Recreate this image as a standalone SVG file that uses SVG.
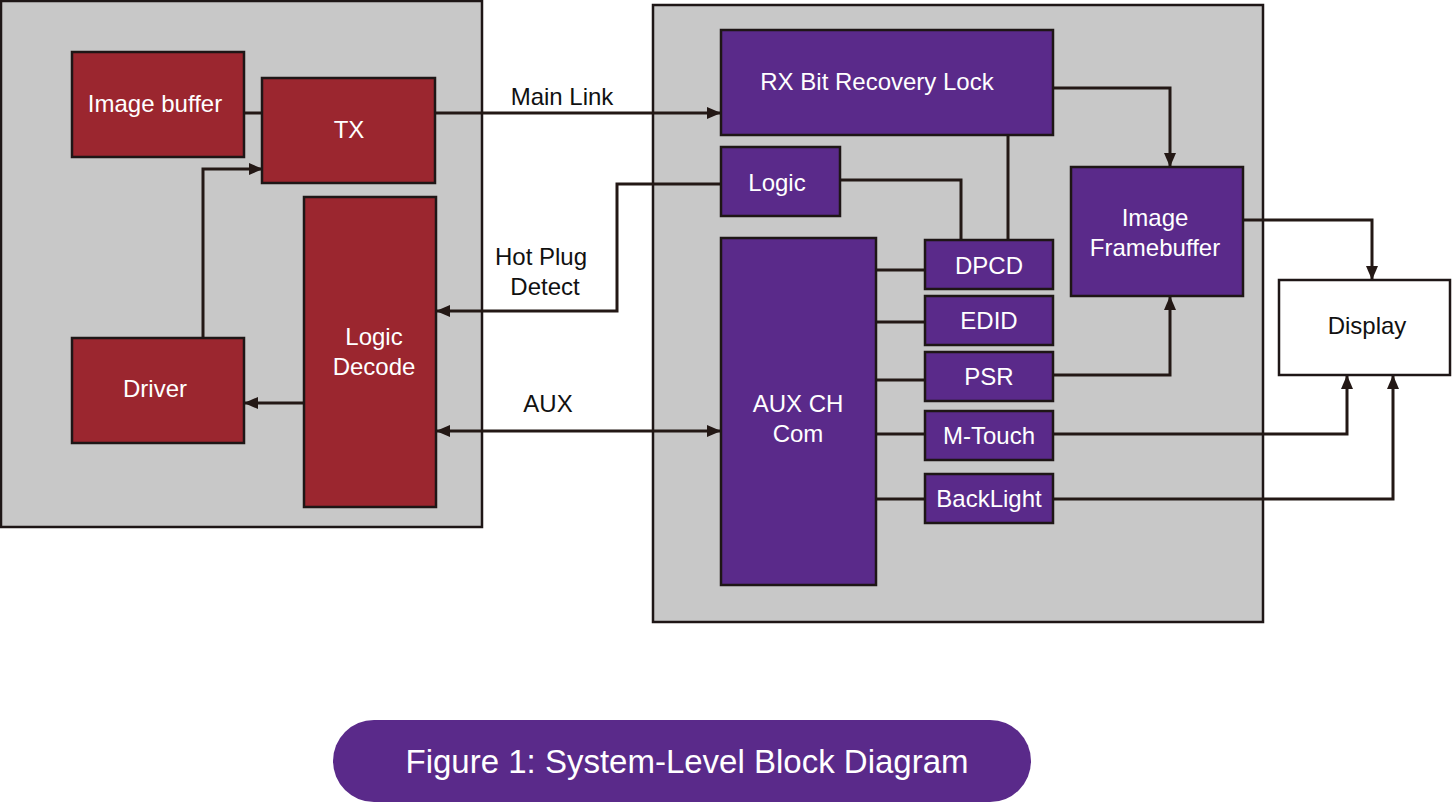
<svg xmlns="http://www.w3.org/2000/svg" width="1452" height="803" viewBox="0 0 1452 803">
<style>
.cont{fill:#c8c8c8;stroke:#1e1616;stroke-width:2.5}
.red{fill:#9b262f;stroke:#1e1616;stroke-width:2.5}
.pur{fill:#5a2a8a;stroke:#1e1616;stroke-width:2.5}
.wht{fill:#ffffff;stroke:#1e1616;stroke-width:2.5}
.lbl{font-family:"Liberation Sans",Arial,sans-serif;font-size:24px;text-anchor:middle;dominant-baseline:central}
.w{fill:#ffffff}
.k{fill:#111111}
.cn{fill:none;stroke:#231815;stroke-width:3}
</style>
<defs>
<marker id="ah" markerUnits="userSpaceOnUse" markerWidth="14" markerHeight="12" refX="13" refY="6" orient="auto-start-reverse">
<path d="M0,0 L14,6 L0,12 Z" fill="#231815"/>
</marker>
</defs>
<rect x="1" y="1" width="481" height="526" class="cont"/>
<rect x="653" y="5" width="610" height="617" class="cont"/>
<g id="connectors">
<path class="cn" d="M244,113 H262"/>
<path class="cn" d="M203,338 V169 H262" marker-end="url(#ah)"/>
<path class="cn" d="M304,403 H245" marker-end="url(#ah)"/>
<path class="cn" d="M435,113 H720" marker-end="url(#ah)"/>
<path class="cn" d="M721,184 H617 V311 H437" marker-end="url(#ah)"/>
<path class="cn" d="M437,431 H720" marker-start="url(#ah)" marker-end="url(#ah)"/>
<path class="cn" d="M1053,88 H1170 V166" marker-end="url(#ah)"/>
<path class="cn" d="M840,180 H961 V240"/>
<path class="cn" d="M1008,135 V240"/>
<path class="cn" d="M876,270 H925"/>
<path class="cn" d="M876,322 H925"/>
<path class="cn" d="M876,380 H925"/>
<path class="cn" d="M876,434 H925"/>
<path class="cn" d="M876,499 H925"/>
<path class="cn" d="M1053,375 H1170 V297" marker-end="url(#ah)"/>
<path class="cn" d="M1243,220 H1372 V279" marker-end="url(#ah)"/>
<path class="cn" d="M1053,434 H1347 V376" marker-end="url(#ah)"/>
<path class="cn" d="M1053,499 H1393 V376" marker-end="url(#ah)"/>
</g>
<g id="image-buffer"><rect x="72" y="52" width="172" height="105" class="red"/><text x="155" y="103" class="lbl w">Image buffer</text></g>
<g id="tx"><rect x="262" y="78" width="173" height="105" class="red"/><text x="349" y="129" class="lbl w">TX</text></g>
<g id="logic-decode"><rect x="304" y="197" width="132" height="310" class="red"/><text x="374" y="336" class="lbl w">Logic</text><text x="374" y="366" class="lbl w">Decode</text></g>
<g id="driver"><rect x="72" y="338" width="172" height="105" class="red"/><text x="155" y="388" class="lbl w">Driver</text></g>
<g id="main-link-label"><text x="562" y="96" class="lbl k">Main Link</text></g>
<g id="hpd-label"><text x="541" y="256" class="lbl k">Hot Plug</text><text x="545" y="286" class="lbl k">Detect</text></g>
<g id="aux-label"><text x="548" y="403" class="lbl k">AUX</text></g>
<g id="rx"><rect x="721" y="30" width="332" height="105" class="pur"/><text x="877" y="81" class="lbl w">RX Bit Recovery Lock</text></g>
<g id="logic"><rect x="721" y="147" width="119" height="69" class="pur"/><text x="777" y="182" class="lbl w">Logic</text></g>
<g id="aux-ch"><rect x="721" y="238" width="155" height="347" class="pur"/><text x="798" y="403" class="lbl w">AUX CH</text><text x="798" y="433" class="lbl w">Com</text></g>
<g id="dpcd"><rect x="925" y="240" width="128" height="49" class="pur"/><text x="989" y="265" class="lbl w">DPCD</text></g>
<g id="edid"><rect x="925" y="296" width="128" height="49" class="pur"/><text x="989" y="320" class="lbl w">EDID</text></g>
<g id="psr"><rect x="925" y="352" width="128" height="49" class="pur"/><text x="989" y="376" class="lbl w">PSR</text></g>
<g id="mtouch"><rect x="925" y="411" width="128" height="49" class="pur"/><text x="989" y="435" class="lbl w">M-Touch</text></g>
<g id="backlight"><rect x="925" y="474" width="128" height="49" class="pur"/><text x="989" y="498" class="lbl w">BackLight</text></g>
<g id="framebuffer"><rect x="1071" y="167" width="172" height="129" class="pur"/><text x="1155" y="217" class="lbl w">Image</text><text x="1155" y="247" class="lbl w">Framebuffer</text></g>
<g id="display"><rect x="1279" y="280" width="171" height="95" class="wht"/><text x="1367" y="325" class="lbl k">Display</text></g>
<g id="caption"><rect x="333" y="720" width="698" height="82" rx="41" fill="#5a2a8a"/><text x="687" y="761" class="lbl w" style="font-size:33px">Figure 1: System-Level Block Diagram</text></g>
</svg>
